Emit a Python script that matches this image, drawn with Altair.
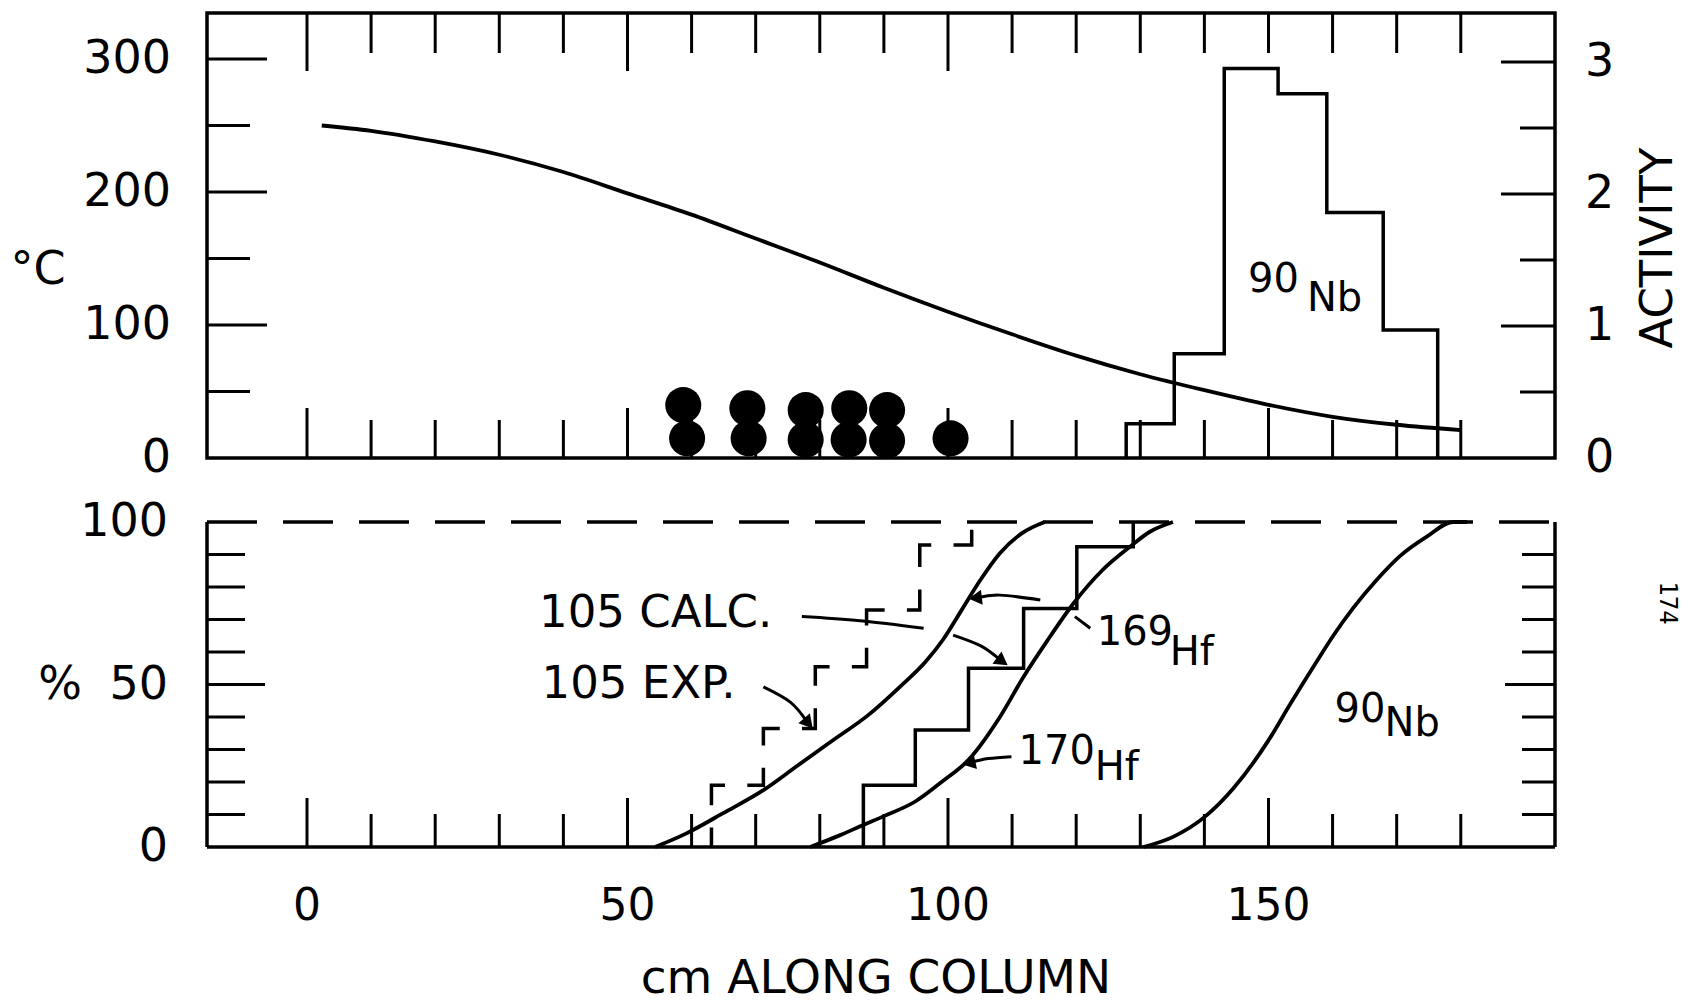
import math
import altair as alt
import pandas as pd

# ---------------------------------------------------------------- data
# temperature profile along the column (top panel, left axis, deg C)
TEMP_CM = [2.3, 10, 20, 30, 40, 50, 60, 70, 80, 90, 100, 110, 120, 130, 140, 150, 160, 170, 180]
TEMP_C = [250, 246, 238, 228, 215, 199, 183, 165, 147, 128, 110, 93, 77, 63, 51, 40, 31, 25, 21]

# 90Nb activity histogram (top panel, right axis)
NB_EDGES = [127.8, 135.3, 143.1, 151.5, 159.1, 167.9, 176.4]
NB_ACTIVITY = [0.26, 0.79, 2.95, 2.76, 1.86, 0.97]

# black dots (deposition positions)
DOT_CM = [58.7, 59.3, 68.7, 68.9, 77.8, 77.8, 84.6, 84.5, 90.5, 90.5, 100.4]
DOT_C = [39.8, 14.8, 37.4, 14.8, 36.0, 13.8, 37.4, 13.8, 36.0, 13.0, 14.8]

# bottom panel: cumulative percentages
CALC_CM = [54.3, 59.2, 65.0, 71.2, 76.5, 82.1, 87.5, 92.5, 96.5, 99.3, 102.0, 105.0, 108.1, 111.5, 115.1]
CALC_PCT = [0, 4.2, 10.5, 17.5, 25.0, 32.9, 40.5, 49.3, 57.0, 64.0, 72.5, 82.0, 90.4, 96.5, 100]
HF170_CM = [78.5, 83.0, 86.8, 90.0, 94.9, 99.0, 103.2, 108.1, 111.8, 115.5, 119.6, 124.0, 128.4, 131.5, 135.1]
HF170_PCT = [0, 3.5, 6.8, 9.5, 14.0, 20.0, 26.8, 40.0, 52.4, 63.5, 75.0, 85.0, 92.4, 97.0, 100]
NB90_CM = [130.5, 135.2, 140.2, 144.5, 149.9, 153.4, 157.5, 160.1, 163.2, 166.8, 170.5, 174.7, 178.8, 181.0]
NB90_PCT = [0, 3.2, 9.5, 18.0, 32.5, 44.0, 57.0, 65.0, 73.5, 82.0, 89.5, 95.5, 100, 100]
HF169_EDGES = [86.8, 94.9, 103.2, 111.8, 120.1, 128.9]
HF169_PCT = [19, 36, 55, 73.4, 92.4, 100]
EXP_EDGES = [63.1, 71.2, 79.3, 87.3, 95.6, 103.7]
EXP_PCT = [19, 36.5, 55.5, 72.9, 92.9, 100]

# axis ticks / labels
X_TICKS = list(range(0, 181, 10))
X_MAJOR_TOP = [0, 50, 100]
X_MAJOR = [0, 50, 100, 150]
X_LABELS = ["0", "50", "100", "150"]
TEMP_MAJOR = [100, 200, 300]
TEMP_MINOR = [50, 150, 250]
TEMP_LABEL_V = [0, 100, 200, 300]
TEMP_LABELS = ["0", "100", "200", "300"]
ACT_MAJOR = [1, 2, 3]
ACT_MINOR = [0.5, 1.5, 2.5]
ACT_LABEL_V = [0, 1, 2, 3]
ACT_LABELS = ["0", "1", "2", "3"]
PCT_MAJOR = [50]
PCT_MINOR = [10, 20, 30, 40, 60, 70, 80, 90]
PCT_LABEL_V = [0, 50, 100]
PCT_LABELS = ["0", "50", "100"]

# annotations (text, cm, value, font size)
NOTE_BOTTOM = [("105 CALC.", 36.2, 72.0, 45), ("105 EXP.", 36.6, 50.2, 45),
               ("169", 123.2, 65.7, 40), ("Hf", 134.6, 59.7, 40),
               ("170", 111.0, 29.1, 40), ("Hf", 122.9, 24.3, 40),
               ("90", 160.3, 42.2, 40), ("Nb", 168.1, 37.8, 40)]
NOTE_TOP = [("90", 146.8, 134.0, 40), ("Nb", 156.0, 119.7, 40)]
# leader lines / arrows in the bottom panel (cm, %)
PATHS = {
    "calc_lead": [(77.2, 70.9), (86.3, 69.6), (96.2, 67.3)],
    "calc_up": [(114.4, 76.0), (108.1, 77.5), (104.6, 76.7)],
    "calc_dn": [(100.8, 65.2), (105.2, 61.8), (108.2, 57.5)],
    "exp": [(71.2, 49.3), (75.4, 44.6), (78.0, 38.6)],
    "hf169": [(119.8, 70.9), (122.2, 67.3)],
    "hf170": [(109.9, 27.8), (106.3, 27.2), (103.6, 26.0)],
}
ARROWED = ["calc_up", "calc_dn", "exp", "hf170"]

# ---------------------------------------------------------------- layout
FONT = "DejaVu Sans"
INK = "black"
W, H = 1348, 834
X_DOMAIN = [-15.6, 194.7]
TOP_ZERO = 445.0
PX_PER_C = 1.33
PX_PER_ACT = 132.0
BOT_TOP = 509.0
BOT_ZERO = 834.0
PX_PER_PCT = (BOT_ZERO - BOT_TOP) / 100.0
PX_PER_CM = W / (X_DOMAIN[1] - X_DOMAIN[0])

TEMP_DOMAIN = [-(H - TOP_ZERO) / PX_PER_C, TOP_ZERO / PX_PER_C]
ACT_DOMAIN = [-(H - TOP_ZERO) / PX_PER_ACT, TOP_ZERO / PX_PER_ACT]
PCT_DOMAIN = [(BOT_ZERO - H) / PX_PER_PCT, BOT_ZERO / PX_PER_PCT]

xs = alt.Scale(domain=X_DOMAIN, nice=False, zero=False)
ts = alt.Scale(domain=TEMP_DOMAIN, nice=False, zero=False)
acs = alt.Scale(domain=ACT_DOMAIN, nice=False, zero=False)
ps = alt.Scale(domain=PCT_DOMAIN, nice=False, zero=False)

ONE = pd.DataFrame({"k": [0]})


def cx(f="x"):
    return alt.X(f"{f}:Q", scale=xs, axis=None)


def cy(f, s):
    return alt.Y(f"{f}:Q", scale=s, axis=None)


def vticks(values, y0, y1):
    return alt.Chart(pd.DataFrame({"x": values})).mark_rule(
        color=INK, strokeWidth=3).encode(x=cx(), y=alt.value(y0), y2=alt.value(y1))


def hticks(values, scale, x0, x1):
    return alt.Chart(pd.DataFrame({"v": values})).mark_rule(
        color=INK, strokeWidth=3).encode(y=cy("v", scale), x=alt.value(x0), x2=alt.value(x1))


def steps(edges, levels, close_to_zero):
    xs_, ys_ = [edges[0]], [0.0]
    for i, lv in enumerate(levels):
        xs_.append(edges[min(i, len(edges) - 1)])
        ys_.append(lv)
    if close_to_zero:
        xs_.append(edges[-1])
        ys_.append(0.0)
    return pd.DataFrame({"x": xs_, "y": ys_, "i": range(len(xs_))})


layers = []

# frames
layers.append(alt.Chart(ONE).mark_rect(fillOpacity=0, stroke=INK, strokeWidth=3.5).encode(
    x=alt.value(0), x2=alt.value(W), y=alt.value(0), y2=alt.value(TOP_ZERO)))
for xv in (0, W):
    layers.append(alt.Chart(ONE).mark_rule(color=INK, strokeWidth=3.5).encode(
        x=alt.value(xv), y=alt.value(BOT_TOP), y2=alt.value(BOT_ZERO)))
layers.append(alt.Chart(ONE).mark_rule(color=INK, strokeWidth=3.5).encode(
    x=alt.value(0), x2=alt.value(W), y=alt.value(BOT_ZERO)))
layers.append(alt.Chart(ONE).mark_rule(color=INK, strokeWidth=3.5, strokeDash=[50, 26]).encode(
    x=alt.value(0), x2=alt.value(W), y=alt.value(BOT_TOP)))

# ticks (inward)
x_minor_top = [v for v in X_TICKS if v not in X_MAJOR_TOP]
x_minor = [v for v in X_TICKS if v not in X_MAJOR]
layers += [
    vticks(X_MAJOR_TOP, 0, 58), vticks(x_minor_top, 0, 40),
    vticks(X_MAJOR, TOP_ZERO, TOP_ZERO - 50), vticks(x_minor, TOP_ZERO, TOP_ZERO - 38),
    vticks(X_MAJOR, BOT_ZERO, BOT_ZERO - 49), vticks(x_minor, BOT_ZERO, BOT_ZERO - 33),
    hticks(TEMP_MAJOR, ts, 0, 60), hticks(TEMP_MINOR, ts, 0, 43),
    hticks(ACT_MAJOR, acs, W, W - 54), hticks(ACT_MINOR, acs, W, W - 35),
    hticks(PCT_MAJOR, ps, 0, 58), hticks(PCT_MINOR, ps, 0, 38),
    hticks(PCT_MAJOR, ps, W, W - 50), hticks(PCT_MINOR, ps, W, W - 33),
]

# top panel data
temp_df = pd.DataFrame({"x": TEMP_CM, "y": TEMP_C})
layers.append(alt.Chart(temp_df).mark_line(color=INK, strokeWidth=3.8, interpolate="monotone").encode(
    x=cx(), y=cy("y", ts)))
nb_df = steps(NB_EDGES, NB_ACTIVITY, True)
layers.append(alt.Chart(nb_df).mark_line(color=INK, strokeWidth=3.5, interpolate="step-after").encode(
    x=cx(), y=cy("y", acs), order="i:Q"))
dots_df = pd.DataFrame({"x": DOT_CM, "y": DOT_C})
layers.append(alt.Chart(dots_df).mark_circle(size=1300, color=INK, opacity=1).encode(
    x=cx(), y=cy("y", ts)))

# bottom panel curves
rows = []
for name, cxs, cys in (("calc", CALC_CM, CALC_PCT), ("hf170", HF170_CM, HF170_PCT), ("nb90", NB90_CM, NB90_PCT)):
    for i, (a, b) in enumerate(zip(cxs, cys)):
        rows.append({"s": name, "x": a, "y": b, "i": i})
curves_df = pd.DataFrame(rows)
layers.append(alt.Chart(curves_df).mark_line(color=INK, strokeWidth=3.8, interpolate="monotone").encode(
    x=cx(), y=cy("y", ps), detail="s:N", order="i:Q"))
hf169_df = steps(HF169_EDGES, HF169_PCT, False)
layers.append(alt.Chart(hf169_df).mark_line(color=INK, strokeWidth=3.5, interpolate="step-after").encode(
    x=cx(), y=cy("y", ps), order="i:Q"))
exp_df = steps(EXP_EDGES, EXP_PCT, False)
layers.append(alt.Chart(exp_df).mark_line(color=INK, strokeWidth=3.5, interpolate="step-after",
                                          strokeDash=[33.5, 22.3], strokeDashOffset=14).encode(
    x=cx(), y=cy("y", ps), order="i:Q"))

# annotation lines and arrow heads
prow, heads = [], []
for name, pts in PATHS.items():
    for i, (a, b) in enumerate(pts):
        prow.append({"p": name, "x": a, "y": b, "i": i})
    if name in ARROWED:
        (x0, y0), (x1, y1) = pts[-2], pts[-1]
        dx = (x1 - x0) * PX_PER_CM
        dy = -(y1 - y0) * PX_PER_PCT
        ang = math.degrees(math.atan2(dx, -dy)) % 360
        heads.append({"x": x1, "y": y1, "a": ang})
paths_df = pd.DataFrame(prow)
layers.append(alt.Chart(paths_df).mark_line(color=INK, strokeWidth=3, interpolate="cardinal").encode(
    x=cx(), y=cy("y", ps), detail="p:N", order="i:Q"))
layers.append(alt.Chart(pd.DataFrame(heads)).mark_point(shape="triangle", filled=True, size=230,
                                                        color=INK, opacity=1).encode(
    x=cx(), y=cy("y", ps), angle=alt.Angle("a:Q", scale=None)))

# annotation text
nb_df_t = pd.DataFrame(NOTE_BOTTOM, columns=["t", "x", "y", "f"])
nt_df_t = pd.DataFrame(NOTE_TOP, columns=["t", "x", "y", "f"])
for df_, sc in ((nb_df_t, ps), (nt_df_t, ts)):
    for fs in sorted(df_["f"].unique()):
        sub = df_[df_["f"] == fs]
        layers.append(alt.Chart(sub).mark_text(font=FONT, fontSize=int(fs), align="left", baseline="middle",
                                               color=INK).encode(x=cx(), y=cy("y", sc), text="t:N"))

# axis labels
lab = dict(font=FONT, baseline="middle", color=INK)
layers.append(alt.Chart(pd.DataFrame({"v": TEMP_LABEL_V, "t": TEMP_LABELS})).mark_text(
    align="right", fontSize=46, **lab).encode(x=alt.value(-36), y=cy("v", ts), text="t:N"))
layers.append(alt.Chart(pd.DataFrame({"v": ACT_LABEL_V, "t": ACT_LABELS})).mark_text(
    align="left", fontSize=46, **lab).encode(x=alt.value(W + 30), y=cy("v", acs), text="t:N"))
layers.append(alt.Chart(pd.DataFrame({"v": PCT_LABEL_V, "t": PCT_LABELS})).mark_text(
    align="right", fontSize=46, **lab).encode(x=alt.value(-39), y=cy("v", ps), text="t:N"))
layers.append(alt.Chart(pd.DataFrame({"x": X_MAJOR, "t": X_LABELS})).mark_text(
    align="center", fontSize=44, **lab).encode(x=cx(), y=alt.value(894), text="t:N"))

# titles
layers.append(alt.Chart(ONE).mark_text(text="°C", align="center", fontSize=46, **lab).encode(
    x=alt.value(-169), y=alt.value(257)))
layers.append(alt.Chart(ONE).mark_text(text="%", align="center", fontSize=46, **lab).encode(
    x=alt.value(-147), y=alt.value(BOT_ZERO - 50 * PX_PER_PCT)))
layers.append(alt.Chart(ONE).mark_text(text="ACTIVITY", align="center", angle=270, fontSize=45, **lab).encode(
    x=alt.value(W + 103), y=alt.value(235)))
layers.append(alt.Chart(ONE).mark_text(text="cm ALONG COLUMN", align="center", fontSize=47, **lab).encode(
    x=alt.value(669), y=alt.value(966)))
layers.append(alt.Chart(ONE).mark_text(text="174", align="center", angle=90, font="DejaVu Sans Mono",
                                       fontSize=24, baseline="middle", color=INK).encode(
    x=alt.value(W + 112), y=alt.value(590)))

chart = alt.layer(*layers).resolve_scale(y="independent").properties(
    width=W, height=H,
    autosize=alt.AutoSizeParams(type="none"),
    padding={"left": 199, "top": 5, "right": 128, "bottom": 160},
    background="white",
).configure_view(strokeWidth=0)

chart.save("out.html", embed_options={"renderer": "svg", "actions": False})
